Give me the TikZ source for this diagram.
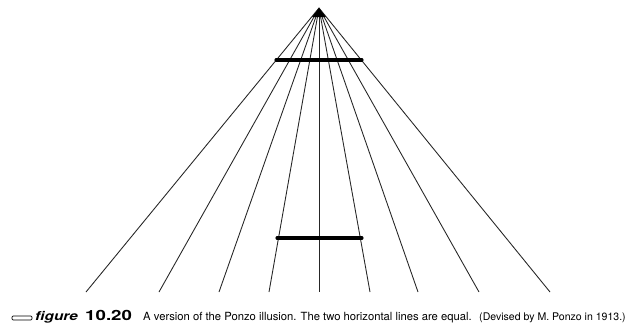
\documentclass[tikz,border=0pt]{standalone}
\usepackage{fontspec}
\usepackage{graphicx}
\setmainfont{TeX Gyre Heros}
\begin{document}
\begin{tikzpicture}[x=0.03cm,y=-0.03cm,
  ray/.style={line width=0.75pt,black!85},
  bar/.style={line width=2.6pt,line cap=round},
  captext/.style={anchor=base west,inner sep=0pt}]
\useasboundingbox (0,0) rectangle (629,328);
\coordinate (A) at (319,8);
\foreach \i/\x in {1/86,2/159,3/219,4/269,5/319,6/370,7/418,8/479,9/550}{
  \coordinate (b\i) at (\x,292);
  \draw[ray] (A) -- (b\i);
}
\fill (A) -- ++(-7,9) -- ++(14,0) -- cycle;
\coordinate (t1) at (276,60);
\coordinate (t2) at (362,60);
\coordinate (u1) at (277,238);
\coordinate (u2) at (362,238);
\draw[bar] (t1) -- (t2);
\draw[bar] (u1) -- (u2);
% caption
\draw[line width=0.6pt,rounded corners=1pt] (12,316) rectangle (32,320);
\node[captext] (fig) at (35,320) {\scalebox{1.25}[1]{\fontsize{10.5pt}{12pt}\selectfont\bfseries\itshape figure}};
\node[captext] (num) at (85,320) {\scalebox{1.33}[1]{\fontsize{12pt}{14pt}\selectfont\bfseries 10.20}};
\node[captext] (txt) at (143,320) {\fontsize{9.6pt}{11pt}\selectfont A version of the Ponzo illusion. The two horizontal lines are equal.};
\node[captext] (dev) at (479,320) {\fontsize{9pt}{10pt}\selectfont (Devised by M. Ponzo in 1913.)};
\end{tikzpicture}
\end{document}
